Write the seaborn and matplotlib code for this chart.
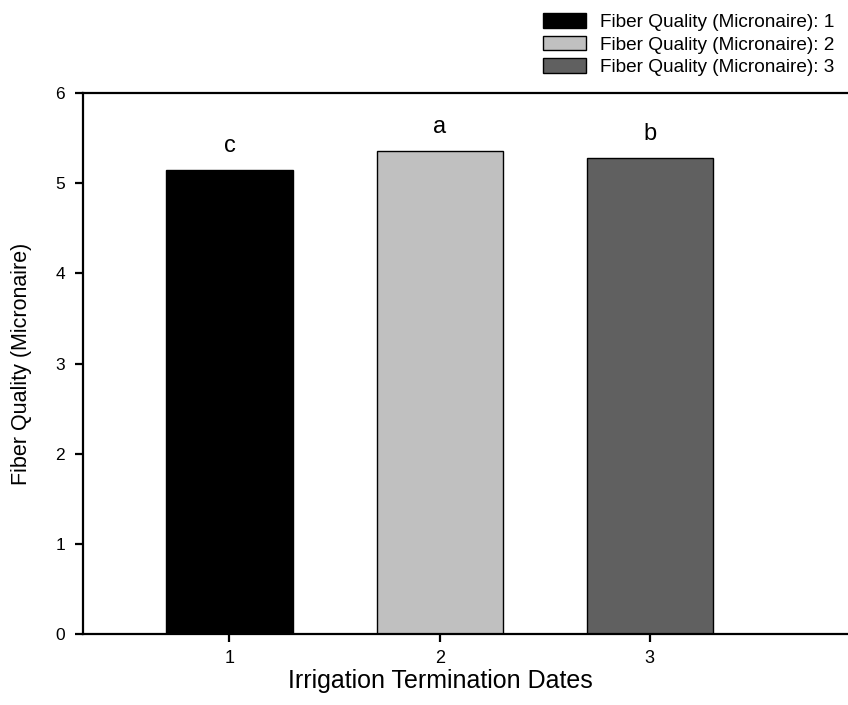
import pandas as pd
import seaborn as sns
import matplotlib.pyplot as plt

# Data
dates = ['1', '2', '3']
micronaire = [5.15, 5.36, 5.28]
letters = ['c', 'a', 'b']
legend_labels = ['Fiber Quality (Micronaire): 1',
                 'Fiber Quality (Micronaire): 2',
                 'Fiber Quality (Micronaire): 3']
bar_colors = ['#000000', '#c0c0c0', '#606060']

df = pd.DataFrame({'date': dates, 'value': micronaire, 'label': legend_labels})

sns.set_style('white')
plt.rcParams['font.family'] = ['Liberation Sans', 'DejaVu Sans']
plt.rcParams['text.color'] = 'black'
plt.rcParams['axes.labelcolor'] = 'black'
plt.rcParams['xtick.color'] = 'black'
plt.rcParams['ytick.color'] = 'black'

fig = plt.figure(figsize=(8.48, 7.05), dpi=100)
ax = fig.add_axes([83 / 848, 1 - 634 / 705, (860 - 83) / 848, (634 - 93) / 705])

sns.barplot(data=df, x='date', y='value', hue='label', palette=bar_colors,
            dodge=False, width=0.6, edgecolor='black', linewidth=1.0,
            legend=False, ax=ax)

# significance letters above bars
for i, (v, s) in enumerate(zip(micronaire, letters)):
    ax.annotate(s, (i, v), xytext=(0, 17), textcoords='offset points',
                ha='center', va='center', fontsize=17)

ax.set_xlim(-0.697, 3.0)
ax.set_ylim(0, 6)
ax.set_yticks(range(0, 7))
ax.set_xlabel('Irrigation Termination Dates', fontsize=18)
ax.set_ylabel('Fiber Quality (Micronaire)', fontsize=15.5)

# label positions (pixel centres from the reference)
ax.xaxis.set_label_coords((440 - 83) / 777, (634 - 681) / 541)
ax.xaxis.label.set_va('center')
ax.yaxis.set_label_coords((22 - 83) / 777, 0.5)
ax.yaxis.label.set_rotation_mode('default')
ax.yaxis.label.set_ha('center')
ax.yaxis.label.set_va('center')

for side in ['left', 'bottom', 'top']:
    ax.spines[side].set_visible(True)
    ax.spines[side].set_linewidth(1.6)
    ax.spines[side].set_color('black')
ax.spines['right'].set_visible(False)
ax.tick_params(axis='both', which='major', direction='out', length=5.8,
               width=1.6, color='black')
ax.tick_params(axis='x', top=False, bottom=True, labelsize=13, pad=6)
ax.tick_params(axis='y', left=True, labelsize=12.5, pad=7)

# legend from the bar patches
handles = [plt.Rectangle((0, 0), 1, 1, facecolor=c, edgecolor='black', linewidth=1.0)
           for c in bar_colors]
fig.legend(handles, legend_labels, loc='upper right', bbox_to_anchor=(848 / 848, 1.0),
           frameon=False, fontsize=13.7, handlelength=2.26, handleheight=0.79,
           handletextpad=0.74, labelspacing=0.24, borderpad=0.2)

plt.savefig('out.png', dpi=100)
